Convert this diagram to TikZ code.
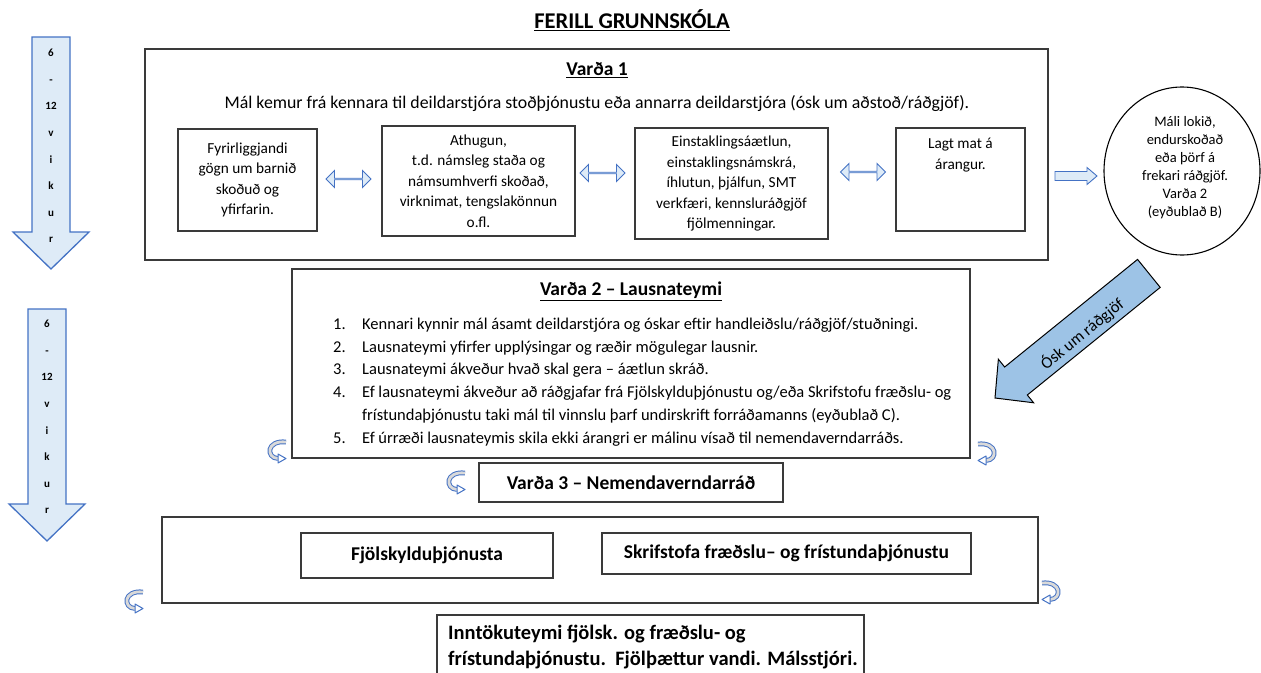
\documentclass[tikz,border=0pt]{standalone}
\usepackage{fontspec}
\setmainfont{Carlito}
\usetikzlibrary{shapes.arrows,shapes.geometric}
\definecolor{afill}{HTML}{DEEBF7}
\definecolor{aline}{HTML}{4472C4}
\definecolor{bigfill}{HTML}{9DC3E6}
\definecolor{bline}{HTML}{3A3A3A}
\newcommand\fs[2]{\fontsize{#1}{#2}\selectfont}
\begin{document}
\begin{tikzpicture}[x=1pt,y=-1pt,
 box/.style={draw=bline, line width=1.1pt, inner sep=0pt, align=center},
 body/.style={font=\fs{15.3}{20.5}, align=center, inner sep=0pt},
 bold/.style={font=\bfseries\fs{19.5}{22}, inner sep=0pt},
 dblarr/.style={double arrow, draw=aline, fill=afill, line width=0.9pt, minimum height=45pt, minimum width=17pt, double arrow head extend=4.5pt, inner sep=0pt},
 blockarr/.style={draw=aline, fill=afill, line width=0.9pt},
 downarr/.style={draw=aline, fill=afill, line width=1.3pt},
 vtxt/.style={font=\bfseries\fs{11}{26.6}, align=center, inner sep=0pt},
 curl/.pic={
   \draw[aline, line width=1pt, double=gray!30, double distance=2.8pt] (9,-9) .. controls (-11,-11) and (-11,7) .. (1,7.5);
   \draw[aline, line width=1pt, fill=white, line join=round] (1,3) -- (9,7.5) -- (1,12) -- cycle;
 }]
\useasboundingbox (0,0) rectangle (1261,672);

% title
\node[bold, font=\bfseries\fs{22.5}{24}] (title) at (632,20) {\underline{FERILL GRUNNSKÓLA}};

% down arrows
\draw[downarr] (32,37) -- (70,37) -- (70,232) -- (89,232) -- (51,269) -- (13,232) -- (32,232) -- cycle;
\node[vtxt] (w1) at (51,146) {6\\-\\12\\v\\i\\k\\u\\r};
\draw[downarr] (28,309) -- (66,309) -- (66,504) -- (85,504) -- (47,541) -- (9,504) -- (28,504) -- cycle;
\node[vtxt] (w2) at (47,417) {6\\-\\12\\v\\i\\k\\u\\r};

% Varda 1
\node[box, minimum width=903, minimum height=211] (v1) at (596.5,154.5) {};
\node[bold] (v1t) at (597,70) {\underline{Varða 1}};
\node[body, font=\fs{17.8}{20.5}] (v1l) at (597,104) {Mál kemur frá kennara til deildarstjóra stoðþjónustu eða annarra deildarstjóra (ósk um aðstoð/ráðgjöf).};
\node[box, body, draw=bline, minimum width=139, minimum height=102] (a) at (247.5,180) {Fyrirliggjandi\\gögn um barnið\\skoðuð og\\yfirfarin.};
\node[box, body, draw=bline, minimum width=193, minimum height=110] (b) at (478.5,181) {Athugun,\\t.d. námsleg staða og\\námsumhverfi skoðað,\\virknimat, tengslakönnun\\o.fl.};
\node[box, body, draw=bline, minimum width=193, minimum height=111] (c) at (731.5,183.5) {Einstaklingsáætlun,\\einstaklingsnámskrá,\\íhlutun, þjálfun, SMT\\verkfæri, kennsluráðgjöf\\fjölmenningar.};
\node[box, minimum width=129, minimum height=103] (d) at (960.5,179.5) {};
\node[body] (dt) at (960.5,155) {Lagt mat á\\árangur.};
\node[dblarr] (ab) at (348.5,179) {};
\node[dblarr] (bc) at (602.5,173) {};
\node[dblarr] (cd) at (863,172) {};

% circle
\node[ellipse, draw=black, line width=1.1pt, minimum width=156, minimum height=168] (e) at (1182,171) {};
\node[font=\fs{14.5}{18}, align=center, inner sep=0pt] (et) at (1185,168) {Máli lokið,\\endurskoðað\\eða þörf á\\frekari ráðgjöf.\\Varða 2\\(eyðublað B)};

% arrow to circle
\draw[blockarr] (1055,171.5) -- (1087,171.5) -- (1087,167.5) -- (1097,176) -- (1087,184.5) -- (1087,180.5) -- (1055,180.5) -- cycle;

% big diagonal arrow
\begin{scope}[shift={(995,398)}, rotate=39]
 \draw[fill=bigfill, draw=black, line width=1pt, line join=miter] (0,0) -- (27,-28) -- (27,-18) -- (198,-18) -- (198,18) -- (27,18) -- (27,28) -- cycle;
 \node[font=\fs{16.5}{18}, rotate=39, inner sep=0pt] (osk) at (108,5) {Ósk um ráðgjöf};
\end{scope}

% Varda 2
\node[box, minimum width=678, minimum height=189] (v2) at (631,363.5) {};
\node[bold] (v2t) at (631,291) {\underline{Varða 2 – Lausnateymi}};
\node[font=\fs{16.5}{22.8}, align=left, inner sep=0pt, anchor=west] (v2l) at (333,382) {%
\makebox[29pt][l]{1.}Kennari kynnir mál ásamt deildarstjóra og óskar eftir handleiðslu/ráðgjöf/stuðningi.\\
\makebox[29pt][l]{2.}Lausnateymi yfirfer upplýsingar og ræðir mögulegar lausnir.\\
\makebox[29pt][l]{3.}Lausnateymi ákveður hvað skal gera – áætlun skráð.\\
\makebox[29pt][l]{4.}Ef lausnateymi ákveður að ráðgjafar frá Fjölskylduþjónustu og/eða Skrifstofu fræðslu- og\\
\hspace*{29pt}frístundaþjónustu taki mál til vinnslu þarf undirskrift forráðamanns (eyðublað C).\\
\makebox[29pt][l]{5.}Ef úrræði lausnateymis skila ekki árangri er málinu vísað til nemendaverndarráðs.};

% Varda 3
\node[box, bold, minimum width=304, minimum height=39] (v3) at (631,482.5) {Varða 3 – Nemendaverndarráð};

% bottom box
\node[box, minimum width=876, minimum height=86] (v4) at (600,560) {};
\node[box, bold, minimum width=252, minimum height=45] (fj) at (427,555.5) {Fjölskylduþjónusta};
\node[box, bold, minimum width=369, minimum height=41] (sk) at (786.5,553.5) {Skrifstofa fræðslu– og frístundaþjónustu};
\node[box, minimum width=427, minimum height=70] (inn) at (650.5,650) {};
\node[bold, align=left, font=\bfseries\fs{20.5}{26}, anchor=west] (innt) at (448,647) {Inntökuteymi fjölsk. og fræðslu- og\\frístundaþjónustu.\ \ Fjölþættur vandi. Málsstjóri.};

% curl arrows
\pic (c1) at (277,451) {curl};
\pic[xscale=-1] (c2) at (987,453) {curl};
\pic (c3) at (456,482) {curl};
\pic (c4) at (134,601) {curl};
\pic[xscale=-1] (c5) at (1051,592) {curl};
\end{tikzpicture}
\end{document}
